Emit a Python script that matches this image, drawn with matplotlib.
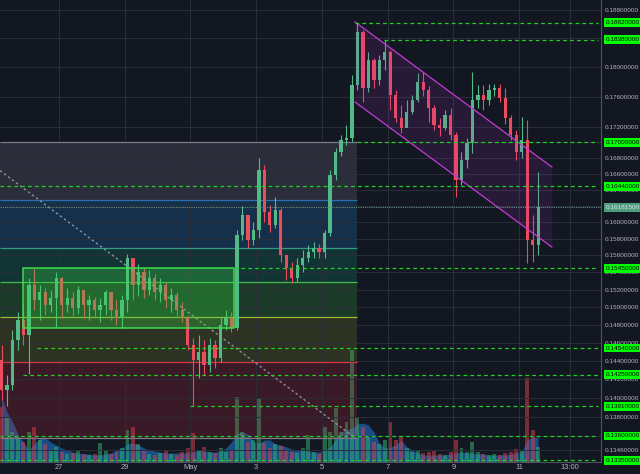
import numpy as np
import matplotlib.pyplot as plt
from matplotlib.transforms import blended_transform_factory

plt.rcParams['font.family'] = ['Liberation Sans', 'DejaVu Sans']

# 4h candles, time in days after Apr 25 00:00
open0 = 0.1441
close = [0.1408, 0.1414, 0.1463, 0.1485, 0.1468, 0.1525, 0.1508, 0.1517, 0.1502, 0.1510,
         0.1533, 0.1502, 0.1510, 0.1499, 0.1520, 0.1502, 0.1508, 0.1497, 0.1502, 0.1517,
         0.1497, 0.1488, 0.1508, 0.1557, 0.1525, 0.1540, 0.1520, 0.1533, 0.1517, 0.1525,
         0.1508, 0.1514, 0.1497, 0.1488, 0.1457, 0.1441, 0.1450, 0.1435, 0.1457, 0.1443,
         0.1480, 0.1488, 0.1476, 0.1584, 0.1609, 0.1578, 0.1590, 0.1665, 0.1612, 0.1597,
         0.1615, 0.1561, 0.1545, 0.1533, 0.1549, 0.1557, 0.1564, 0.1569, 0.1564, 0.1587,
         0.1658, 0.1688, 0.1703, 0.1706, 0.1776, 0.1849, 0.1772, 0.1810, 0.1783, 0.1810,
         0.1821, 0.1762, 0.1732, 0.1719, 0.1740, 0.1756, 0.1780, 0.1769, 0.1745, 0.1723,
         0.1719, 0.1736, 0.1710, 0.1652, 0.1677, 0.1699, 0.1756, 0.1762, 0.1756, 0.1769,
         0.1772, 0.1758, 0.1732, 0.1710, 0.1688, 0.1703, 0.1578, 0.1572, 0.161815]
high = [0.1457, 0.1424, 0.1474, 0.1494, 0.1502, 0.1533, 0.1545, 0.1525, 0.1522, 0.1520,
        0.1540, 0.1535, 0.1522, 0.1517, 0.1524, 0.1516, 0.1514, 0.1512, 0.1510, 0.1520,
        0.1517, 0.1508, 0.1514, 0.1562, 0.1552, 0.1550, 0.1545, 0.1543, 0.1538, 0.1533,
        0.1529, 0.1522, 0.1517, 0.1506, 0.1490, 0.1465, 0.1468, 0.1463, 0.1465, 0.1463,
        0.1489, 0.1497, 0.1494, 0.1590, 0.1620, 0.1603, 0.1600, 0.1680, 0.1671, 0.1621,
        0.1631, 0.1617, 0.1561, 0.1552, 0.1557, 0.1566, 0.1572, 0.1576, 0.1574, 0.1590,
        0.1665, 0.1693, 0.1710, 0.1723, 0.1789, 0.1862, 0.1852, 0.1821, 0.1813, 0.1817,
        0.1838, 0.1824, 0.1769, 0.1749, 0.1756, 0.1762, 0.1792, 0.1794, 0.1775, 0.1749,
        0.1732, 0.1742, 0.1745, 0.1714, 0.1688, 0.1706, 0.1794, 0.1776, 0.1776, 0.1777,
        0.1777, 0.1777, 0.1772, 0.1736, 0.1716, 0.1733, 0.1729, 0.1609, 0.1662]
low = [0.1398, 0.1391, 0.1408, 0.1452, 0.1457, 0.1426, 0.1497, 0.1485, 0.1491, 0.1494,
       0.1477, 0.1488, 0.1494, 0.1490, 0.1492, 0.1488, 0.1485, 0.1488, 0.1483, 0.1491,
       0.1485, 0.1480, 0.1476, 0.1494, 0.1508, 0.1513, 0.1510, 0.1514, 0.1508, 0.1506,
       0.1499, 0.1494, 0.1490, 0.1483, 0.1452, 0.1391, 0.1421, 0.1424, 0.1428, 0.1432,
       0.1439, 0.1474, 0.1472, 0.1474, 0.1578, 0.1569, 0.1572, 0.1581, 0.1600, 0.1588,
       0.1593, 0.1552, 0.1531, 0.1528, 0.1529, 0.1540, 0.1552, 0.1557, 0.1557, 0.1557,
       0.1583, 0.1652, 0.1683, 0.1697, 0.1701, 0.1769, 0.1753, 0.1766, 0.1772, 0.1776,
       0.1796, 0.1742, 0.1727, 0.1712, 0.1721, 0.1737, 0.1753, 0.1761, 0.1727, 0.1716,
       0.1708, 0.1716, 0.1703, 0.1631, 0.1646, 0.1667, 0.1686, 0.1745, 0.1742, 0.1749,
       0.1761, 0.1753, 0.1724, 0.1703, 0.1677, 0.1680, 0.1551, 0.1552, 0.1560]
volume = [55, 45, 30, 25, 20, 30, 35, 22, 18, 12, 15, 10, 8, 9, 12, 8, 7, 8, 19, 12,
          8, 10, 14, 32, 35, 18, 12, 8, 7, 9, 12, 8, 7, 10, 14, 29, 12, 15, 10, 9,
          14, 10, 12, 65, 30, 20, 22, 64, 19, 14, 18, 16, 12, 10, 9, 14, 27, 10, 8, 35,
          30, 54, 30, 40, 112, 45, 35, 25, 20, 18, 22, 40, 22, 25, 14, 10, 12, 9, 10, 12,
          8, 7, 10, 22, 14, 10, 20, 10, 8, 7, 8, 7, 9, 10, 13, 12, 84, 32, 15]
vol_avg = [65, 50, 40, 28, 20, 12, 18, 24, 24, 20, 17, 14, 12, 10, 9, 8, 8, 7, 7, 8,
           9, 12, 14, 18, 19, 17, 14, 12, 11, 10, 9, 9, 9, 9, 9, 10, 12, 11, 10, 10,
           11, 14, 20, 29, 30, 28, 20, 19, 22, 22, 18, 17, 15, 13, 12, 12, 11, 10, 10, 12,
           15, 22, 30, 32, 34, 38, 39, 37, 30, 19, 14, 15, 17, 22, 15, 12, 9, 7, 7, 7,
           7, 7, 8, 9, 10, 9, 9, 8, 8, 7, 7, 7, 7, 8, 9, 10, 22, 25, 25]

day_pos = [2, 4, 6, 8, 10, 12, 14, 16, 17.54]
day_labels = ['27', '29', 'May', '3', '5', '7', '9', '11', '13:00']
price_ticks = [0.188, 0.184, 0.180, 0.176, 0.172, 0.170, 0.168, 0.166, 0.164, 0.162,
               0.160, 0.158, 0.156, 0.154, 0.152, 0.150, 0.148, 0.146, 0.144, 0.142,
               0.140, 0.138, 0.136, 0.1346]

# fib retracement zones
fib_levels = [0.1700, 0.1627, 0.1569, 0.1529, 0.1489, 0.1439, 0.1358]
fib_t = [0.2, 11.07]
# trend line of the fib
trend_t = [0.2043, 11.01]
trend_p = [0.1664, 0.1358]
# consolidation box
box_t = [0.904, 7.326]
box_p = [0.1476, 0.1545]
# descending channel
chan_t = [11.01, 17.0]
chan_hi = [0.1863, 0.16685]
chan_lo = [0.1753, 0.1570]
# support / resistance levels and where they start
level_p = [0.1862, 0.1838, 0.1700, 0.1644, 0.1545, 0.1454, 0.1425, 0.1391, 0.1360, 0.1335]
level_t = [11.01, 11.89, 11.07, 0.2043, 7.33, 1.33, 0.904, 5.99, 0.2043, 0.2043]
last_price = 0.161815

bg = '#131722'
up_c = '#53b987'
dn_c = '#eb4d5c'

n = len(close)
t = 0.25 + np.arange(n) / 6.0
opens = np.array([open0] + close[:-1])
close = np.array(close)
high = np.array(high)
low = np.array(low)
is_up = close >= opens

fig = plt.figure(figsize=(6.4, 4.74), dpi=100, facecolor=bg)
xlim = (0.2043, 18.496)

# volume pane underneath
vax = fig.add_axes([0, 12 / 474, 601 / 640, 120 / 474])
vax.set_zorder(0)
vax.set_facecolor(bg)
vax.set_xlim(*xlim)
vax.set_ylim(0, 120)
vax.axis('off')
vax.fill_between(t, vol_avg, color='#1e7ad8', alpha=0.55, lw=0)
vax.bar(t, volume, width=0.12, color=np.where(is_up, '#2fb86e', '#e0404f'), alpha=0.5, lw=0)

ax = fig.add_axes([0, 12 / 474, 601 / 640, 462 / 474])
ax.set_zorder(1)
ax.patch.set_alpha(0)
ax.set_yscale('log')
ax.set_xlim(*xlim)
ax.set_ylim(0.13333, 0.18944)

ax.set_yticks(price_ticks)
ax.minorticks_off()
ax.set_yticklabels(['%.8f' % p for p in price_ticks])
ax.yaxis.tick_right()
ax.set_xticks(day_pos)
ax.set_xticklabels(day_labels)
ax.tick_params(axis='both', length=0, colors='#b2b5be')
ax.tick_params(axis='y', pad=3, labelsize=4.6)
ax.tick_params(axis='x', pad=1.5, labelsize=5.4)
ax.set_axisbelow(True)
ax.grid(color='#2a2e39', lw=0.7)
for s in ['top', 'left']:
    ax.spines[s].set_visible(False)
for s in ['right', 'bottom']:
    ax.spines[s].set_color('#4c525e')
    ax.spines[s].set_linewidth(0.8)

# fib bands
fib_fill = [(0.47, 0.48, 0.53, 0.24), (0.13, 0.59, 0.95, 0.2), (0.08, 0.67, 0.51, 0.2),
            (0.24, 0.78, 0.24, 0.2), (0.59, 0.63, 0.16, 0.2), (0.86, 0.16, 0.24, 0.2)]
fib_line = ['#787b86', '#2a6fae', '#2f9c8a', '#3fbf4a', '#9fb83a', '#d43a3a', '#787b86']
for i in range(len(fib_levels) - 1):
    ax.fill_between(fib_t, fib_levels[i + 1], fib_levels[i], color=fib_fill[i], lw=0, zorder=0.2)
for p, c in zip(fib_levels, fib_line):
    ax.hlines(p, fib_t[0], fib_t[1], colors=c, lw=0.9, zorder=0.6)

# candles
ax.vlines(t, low, high, colors=np.where(is_up, up_c, dn_c), lw=0.8, zorder=2)
body_lo = np.minimum(opens, close)
body_h = np.maximum(np.abs(close - opens), 0.00005)
ax.bar(t, body_h, bottom=body_lo, width=0.1, color=np.where(is_up, up_c, dn_c), lw=0, zorder=2)

# drawings
ax.plot(trend_t, trend_p, color='#9598a1', ls=(0, (2, 2)), lw=0.9, zorder=3)
ax.fill_between(box_t, box_p[0], box_p[1], facecolor=(0.2, 0.85, 0.25, 0.3),
                edgecolor='#3ddc4e', lw=1.1, zorder=3)
ax.fill_between(chan_t, chan_lo, chan_hi, color=(0.7, 0.2, 0.8, 0.12), lw=0, zorder=2.5)
ax.plot(chan_t, chan_hi, color='#c23bd4', lw=0.9, zorder=3)
ax.plot(chan_t, chan_lo, color='#c23bd4', lw=0.9, zorder=3)

ax.hlines(last_price, xlim[0], xlim[1], colors='#5f8f86', linestyles=(0, (1, 1)), lw=0.8, zorder=3)
ax.hlines(level_p, level_t, xlim[1] - 0.08, colors='#1fd11f', linestyles=(0, (3, 2.5)), lw=0.9, zorder=4)

trans = blended_transform_factory(ax.transAxes, ax.transData)
for p in level_p:
    ax.text(1.008, p, '%.8f' % p, transform=trans, ha='left', va='center', fontsize=4.6,
            color='#000000', clip_on=False, zorder=10,
            bbox=dict(boxstyle='square,pad=0.3', fc='#00ff00', ec='none'))
ax.text(1.008, last_price, '%.8f' % last_price, transform=trans, ha='left', va='center',
        fontsize=4.6, color='#e0e3eb', clip_on=False, zorder=10,
        bbox=dict(boxstyle='square,pad=0.3', fc='#4d9e7d', ec='none'))

fig.savefig('out.png', dpi=100, facecolor=bg)
